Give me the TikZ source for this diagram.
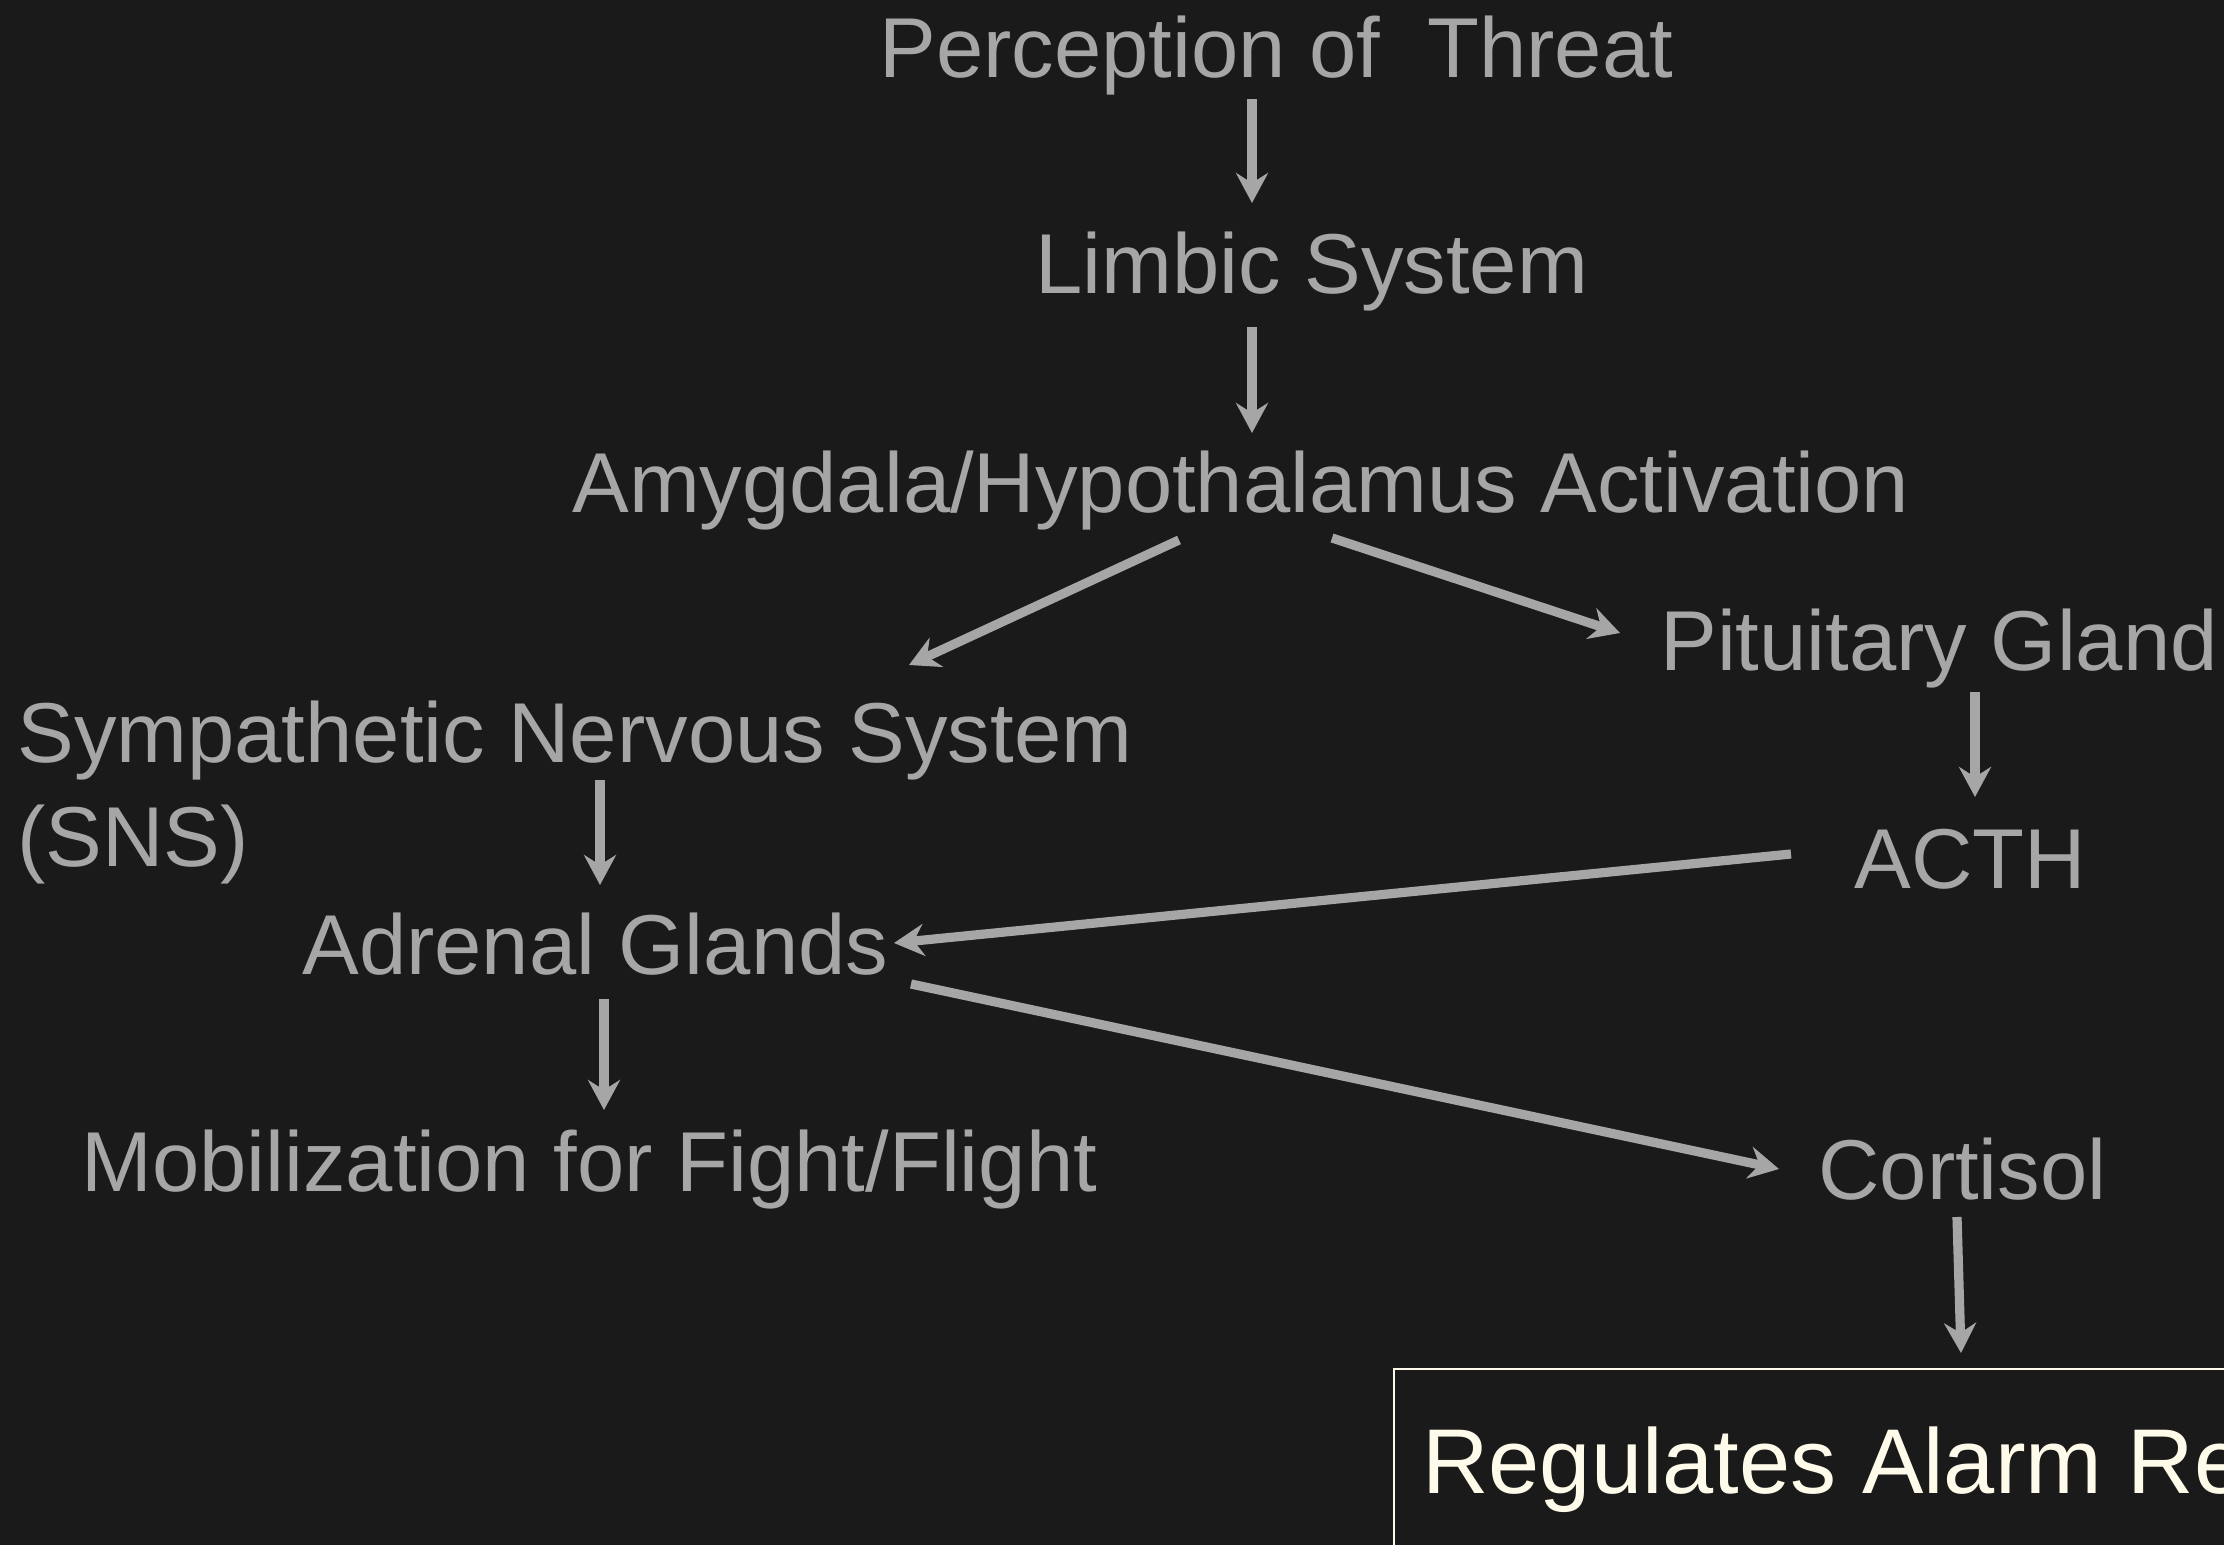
\documentclass[tikz,border=0pt]{standalone}
\usepackage{fontspec}
\setmainfont{Liberation Sans}
\usetikzlibrary{arrows.meta}
\definecolor{bg}{HTML}{1A1A1A}
\definecolor{ink}{HTML}{A6A6A6}
\definecolor{cream}{HTML}{FFFBEA}
\begin{document}
\begin{tikzpicture}[x=0.5pt,y=-0.5pt,
  lbl/.style={anchor=base west, inner sep=0pt, text=ink,
              font=\fontsize{42.5}{52}\selectfont},
  boxtext/.style={lbl, text=cream, font=\fontsize{46}{55}\selectfont},
  arr/.style={draw=ink, line width=4.6pt,
              -{Stealth[length=15pt,width=16pt,inset=5pt]}},
  boxline/.style={draw=cream, line width=1.2pt},
]
% canvas
\useasboundingbox (0,0) rectangle (2224,1545);
\fill[bg] (0,0) rectangle (2224,1545);
\clip (0,0) rectangle (2224,1545);

% stages of the stress response
\node[lbl] (threat)   at (879,78)   {Perception of\ \ Threat};
\node[lbl] (limbic)   at (1035,294) {Limbic System};
\node[lbl] (amyg)     at (572,513)  {Amygdala/Hypothalamus Activation};
\node[lbl] (pit)      at (1660,671) {Pituitary Gland};
% two-line node: its base anchor sits on the last line
\node[lbl, align=left] (sns) at (17,867) {Sympathetic Nervous System\\(SNS)};
\node[lbl] (acth)     at (1854,889) {ACTH};
\node[lbl] (adrenal)  at (302,974)  {Adrenal Glands};
\node[lbl] (mobil)    at (81,1191)  {Mobilization for Fight/Flight};
\node[lbl] (cortisol) at (1818,1199){Cortisol};

% outcome box, running past the right and bottom edges
\draw[boxline] (1394,1369) rectangle (2300,1620);
\node[boxtext] (regulates) at (1422,1493) {Regulates Alarm Re};

% connector end points
\coordinate (threatOut)   at (1252,99);
\coordinate (limbicIn)    at (1252,203);
\coordinate (limbicOut)   at (1252,327);
\coordinate (amygIn)      at (1252,433);
\coordinate (amygOutL)    at (1179,540);
\coordinate (snsIn)       at (909,665);
\coordinate (amygOutR)    at (1332,538);
\coordinate (pitIn)       at (1620,633);
\coordinate (pitOut)      at (1975,692);
\coordinate (acthIn)      at (1975,797);
\coordinate (acthOut)     at (1791,854);
\coordinate (adrenalInR)  at (894,943);
\coordinate (snsOut)      at (600,780);
\coordinate (adrenalInT)  at (600,885);
\coordinate (adrenalOutB) at (604,999);
\coordinate (mobilIn)     at (604,1110);
\coordinate (adrenalOutR) at (911,984);
\coordinate (cortisolIn)  at (1779,1169);
\coordinate (cortisolOut) at (1957,1217);
\coordinate (regulatesIn) at (1961,1353);

% connectors
\draw[arr] (threatOut)   -- (limbicIn);
\draw[arr] (limbicOut)   -- (amygIn);
\draw[arr] (amygOutL)    -- (snsIn);
\draw[arr] (amygOutR)    -- (pitIn);
\draw[arr] (pitOut)      -- (acthIn);
\draw[arr] (acthOut)     -- (adrenalInR);
\draw[arr] (snsOut)      -- (adrenalInT);
\draw[arr] (adrenalOutB) -- (mobilIn);
\draw[arr] (adrenalOutR) -- (cortisolIn);
\draw[arr] (cortisolOut) -- (regulatesIn);
\end{tikzpicture}
\end{document}
